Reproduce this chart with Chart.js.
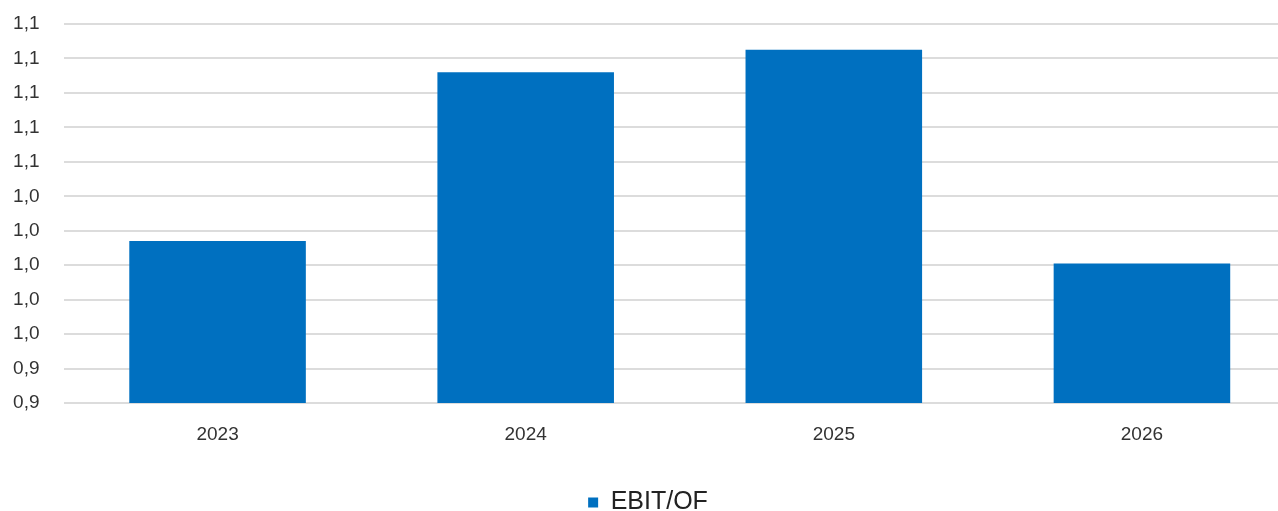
<!DOCTYPE html>
<html>
<head>
<meta charset="utf-8">
<script src="https://cdn.jsdelivr.net/npm/chart.js@4"></script>
<style>
  html, body { margin: 0; padding: 0; background: #fff; overflow: hidden; }
  #wrap { width: 1296px; height: 525px; }
</style>
</head>
<body>
<div id="wrap"><canvas id="myChart" width="1296" height="525"></canvas></div>
<script>
// data
const years = ['2023', '2024', '2025', '2026'];
const ebitOf = [1.014, 1.112, 1.125, 1.001];
const seriesName = 'EBIT/OF';

// y axis range and step (labels are rounded to one decimal, comma separator)
const yMin = 0.92;
const yMax = 1.14;
const yStep = 0.02;

const blue = '#0070c0';
const fontFamily = 'Arial, "Liberation Sans", sans-serif';

const data = {
    labels: years,
    datasets: [
        {
            label: seriesName,
            data: ebitOf,
            backgroundColor: blue,
            borderWidth: 0,
            categoryPercentage: 1,
            barPercentage: 0.573,
        },
    ],
};

const options = {
    responsive: false,
    maintainAspectRatio: false,
    animation: false,
    devicePixelRatio: 1,
    layout: { padding: { top: 24, left: 0, right: 0, bottom: 0 } },
    plugins: {
        legend: {
            position: 'bottom',
            labels: {
                boxWidth: 10,
                boxHeight: 10,
                padding: 10,
                color: '#222',
                font: { family: fontFamily, size: 25 },
            },
        },
        tooltip: { enabled: false },
    },
    scales: {
        x: {
            grid: { display: false },
            border: { display: false },
            ticks: {
                color: '#333',
                padding: 12,
                font: { family: fontFamily, size: 19 },
            },
            afterFit: (scale) => { scale.height = 77; },
        },
        y: {
            min: yMin,
            max: yMax,
            border: { display: false },
            // invisible tick marks keep the labels away from the grid
            grid: { color: '#dcdcdc', lineWidth: 2, tickLength: 24, tickColor: 'rgba(0,0,0,0)' },
            ticks: {
                stepSize: yStep,
                color: '#333',
                padding: 0,
                font: { family: fontFamily, size: 19 },
                callback: (v) => v.toFixed(1).replace('.', ','),
            },
            afterFit: (scale) => { scale.width = 63.5; },
        },
    },
};

new Chart(document.getElementById('myChart'), {
    type: 'bar',
    data: data,
    options: options,
});
</script>
</body>
</html>
